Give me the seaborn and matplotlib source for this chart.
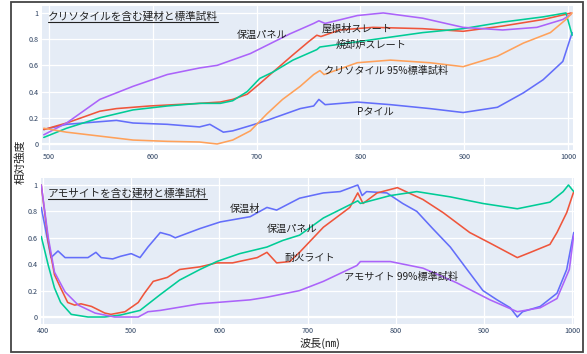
import matplotlib
matplotlib.use("Agg")
import matplotlib.pyplot as plt
from matplotlib.lines import Line2D
from matplotlib.patches import Rectangle
import seaborn as sns
import pandas as pd

sns.set_theme(style="darkgrid")
plt.rcParams["font.family"] = ["Noto Sans CJK JP", "DejaVu Sans"]

BLUE, RED, GREEN, PURPLE, ORANGE = "#636EFA", "#EF553B", "#00CC96", "#AB63FA", "#FFA15A"
BG = "#E5ECF6"
TXT = "#2A3F5F"

# ---- クリソタイル panel ----
ch_panel_x = [495, 517, 549, 581, 614, 645, 662, 694, 732, 755, 760, 766, 797, 822, 860, 899, 937, 970, 995, 1003]
ch_panel_y = [0.07, 0.16, 0.34, 0.44, 0.53, 0.58, 0.60, 0.69, 0.84, 0.92, 0.94, 0.92, 0.98, 1.00, 0.96, 0.89, 0.87, 0.89, 0.95, 0.99]

roof_x = [495, 517, 549, 565, 597, 645, 665, 677, 691, 703, 716, 735, 750, 758, 762, 780, 812, 860, 899, 937, 976, 998, 1003]
roof_y = [0.11, 0.16, 0.25, 0.27, 0.29, 0.31, 0.32, 0.34, 0.38, 0.46, 0.55, 0.68, 0.78, 0.83, 0.82, 0.87, 0.89, 0.88, 0.86, 0.90, 0.95, 0.99, 1.00]

incin_x = [495, 517, 549, 581, 614, 645, 665, 677, 691, 703, 716, 735, 758, 761, 797, 860, 899, 937, 976, 998, 1004]
incin_y = [0.05, 0.12, 0.20, 0.26, 0.29, 0.31, 0.31, 0.33, 0.40, 0.50, 0.55, 0.64, 0.72, 0.74, 0.78, 0.85, 0.88, 0.93, 0.97, 1.00, 0.83]

chrys_x = [495, 517, 549, 581, 614, 645, 662, 677, 694, 710, 725, 742, 755, 761, 765, 797, 829, 867, 899, 932, 957, 983, 998, 1004]
chrys_y = [0.12, 0.09, 0.06, 0.03, 0.02, 0.015, 0.0, 0.03, 0.10, 0.23, 0.34, 0.44, 0.53, 0.56, 0.53, 0.62, 0.64, 0.62, 0.59, 0.67, 0.77, 0.85, 0.95, 1.00]

ptile_x = [495, 517, 549, 565, 581, 614, 645, 655, 668, 677, 694, 710, 742, 755, 760, 766, 797, 829, 867, 899, 932, 957, 976, 995, 1004]
ptile_y = [0.11, 0.15, 0.17, 0.18, 0.16, 0.15, 0.13, 0.15, 0.09, 0.10, 0.14, 0.18, 0.27, 0.29, 0.34, 0.30, 0.32, 0.30, 0.27, 0.24, 0.28, 0.39, 0.49, 0.63, 0.85]

# ---- アモサイト panel ----
insul_x = [398, 409, 417, 425, 432, 451, 460, 466, 479, 488, 500, 510, 519, 533, 544, 550, 578, 601, 635, 654, 665, 691, 718, 737, 757, 762, 767, 790, 808, 824, 842, 862, 881, 899, 915, 930, 938, 944, 964, 983, 994, 1002]
insul_y = [0.83, 0.45, 0.50, 0.45, 0.45, 0.45, 0.49, 0.45, 0.44, 0.46, 0.48, 0.45, 0.53, 0.64, 0.62, 0.60, 0.67, 0.72, 0.76, 0.83, 0.81, 0.90, 0.94, 0.95, 1.00, 0.92, 0.95, 0.94, 0.86, 0.80, 0.67, 0.53, 0.36, 0.20, 0.13, 0.07, 0.00, 0.04, 0.08, 0.18, 0.36, 0.64]

am_panel_x = [398, 406, 413, 420, 432, 451, 470, 488, 510, 533, 555, 578, 597, 623, 654, 672, 691, 718, 748, 757, 760, 794, 824, 862, 899, 938, 975, 990, 996, 1002]
am_panel_y = [0.61, 0.39, 0.22, 0.11, 0.02, 0.00, 0.00, 0.015, 0.05, 0.17, 0.28, 0.36, 0.42, 0.48, 0.53, 0.58, 0.62, 0.75, 0.85, 0.88, 0.86, 0.92, 0.95, 0.91, 0.86, 0.82, 0.87, 0.95, 1.00, 0.95]

fire_x = [398, 406, 413, 420, 428, 436, 443, 455, 470, 477, 485, 493, 508, 515, 525, 541, 555, 578, 597, 615, 643, 654, 665, 680, 691, 718, 748, 757, 763, 779, 802, 831, 854, 884, 907, 938, 953, 975, 983, 994, 1002]
fire_y = [1.00, 0.57, 0.32, 0.22, 0.11, 0.09, 0.10, 0.08, 0.03, 0.02, 0.03, 0.04, 0.11, 0.18, 0.27, 0.30, 0.36, 0.38, 0.41, 0.41, 0.45, 0.49, 0.41, 0.42, 0.49, 0.68, 0.83, 0.94, 0.86, 0.94, 0.98, 0.89, 0.79, 0.64, 0.56, 0.45, 0.49, 0.55, 0.64, 0.79, 0.95]

amos_x = [398, 406, 413, 425, 440, 459, 481, 508, 519, 533, 578, 635, 654, 691, 718, 756, 760, 794, 831, 869, 907, 938, 964, 983, 997, 1002]
amos_y = [1.00, 0.60, 0.34, 0.19, 0.09, 0.03, 0.00, 0.00, 0.04, 0.05, 0.10, 0.13, 0.15, 0.20, 0.27, 0.39, 0.42, 0.42, 0.37, 0.26, 0.13, 0.04, 0.07, 0.14, 0.36, 0.62]

top_ticks = [500, 600, 700, 800, 900, 1000]
bottom_ticks = [400, 500, 600, 700, 800, 900, 1000]
y_ticks = [0, 0.2, 0.4, 0.6, 0.8, 1]
y_ticklabels = ["0", "0.2", "0.4", "0.6", "0.8", "1"]

W, H = 587, 354
fig = plt.figure(figsize=(W / 100, H / 100), dpi=100)
fig.patch.set_facecolor("white")

ax1 = fig.add_axes([42 / W, 1 - 150 / H, 531 / W, 144 / H])
ax2 = fig.add_axes([41 / W, 1 - 324 / H, 533 / W, 146 / H])


def style(ax, xlim, ylim, xticks):
    ax.set_facecolor(BG)
    ax.set_xlim(*xlim)
    ax.set_ylim(*ylim)
    ax.set_xticks(xticks)
    ax.set_xticklabels([str(t) for t in xticks])
    ax.set_yticks(y_ticks)
    ax.set_yticklabels(y_ticklabels)
    ax.grid(True, color="white", linewidth=0.9)
    ax.axhline(0, color="white", linewidth=1.6, zorder=1)
    for s in ax.spines.values():
        s.set_visible(False)
    ax.tick_params(axis="both", length=0, labelsize=5.2, labelcolor=TXT, pad=2.5)
    ax.set_xlabel("")
    ax.set_ylabel("")


def draw(ax, xs, ys, color):
    df = pd.DataFrame({"x": xs, "y": ys})
    sns.lineplot(data=df, x="x", y="y", ax=ax, color=color, linewidth=1.15,
                 sort=False, estimator=None, zorder=3)


draw(ax1, ptile_x, ptile_y, BLUE)
draw(ax1, roof_x, roof_y, RED)
draw(ax1, incin_x, incin_y, GREEN)
draw(ax1, ch_panel_x, ch_panel_y, PURPLE)
draw(ax1, chrys_x, chrys_y, ORANGE)
style(ax1, (493.3, 1004.8), (-0.046, 1.053), top_ticks)

draw(ax2, insul_x, insul_y, BLUE)
draw(ax2, fire_x, fire_y, RED)
draw(ax2, am_panel_x, am_panel_y, GREEN)
draw(ax2, amos_x, amos_y, PURPLE)
style(ax2, (397.7, 1002.3), (-0.053, 1.053), bottom_ticks)

lab = dict(fontsize=7.3, color="#222222", ha="center", va="center", zorder=5)
ax1.text(705, 0.83, "保温パネル", **lab)
ax1.text(797, 0.88, "屋根材スレート", **lab)
ax1.text(810, 0.755, "焼却炉スレート", **lab)
ax1.text(825, 0.56, "クリソタイル 95%標準試料", **lab)
ax1.text(814, 0.25, "Pタイル", **lab)

ax2.text(629, 0.82, "保温材", **lab)
ax2.text(682, 0.67, "保温パネル", **lab)
ax2.text(703, 0.45, "耐火ライト", **lab)
ax2.text(806, 0.30, "アモサイト 99%標準試料", **lab)

t1 = ax1.text(0.011, 0.93, "クリソタイルを含む建材と標準試料", transform=ax1.transAxes,
              fontsize=7.7, color="#222222", ha="left", va="center", zorder=5)
t2 = ax2.text(0.013, 0.897, "アモサイトを含む建材と標準試料", transform=ax2.transAxes,
              fontsize=7.7, color="#222222", ha="left", va="center", zorder=5)

fig.text(320 / W, 1 - 343 / H, "波長(㎚)", fontsize=8, color="#222222",
         ha="center", va="center")
fig.text(20 / W, 1 - 162 / H, "相対強度", fontsize=8, color="#222222",
         ha="center", va="center", rotation=90)

# outer frame
fig.add_artist(Rectangle((11 / W, 1 - 352 / H), 572 / W, 350 / H,
                         transform=fig.transFigure, fill=False,
                         edgecolor="#444444", linewidth=1.3))

# underline the panel titles
fig.canvas.draw()
for t in (t1, t2):
    bb = t.get_window_extent()
    yb = bb.y0 - 0.5
    fig.add_artist(Line2D([bb.x0 / W, bb.x1 / W], [yb / H, yb / H],
                          transform=fig.transFigure, color="#222222", linewidth=0.8))

fig.savefig("out.png", dpi=100, facecolor="white")
